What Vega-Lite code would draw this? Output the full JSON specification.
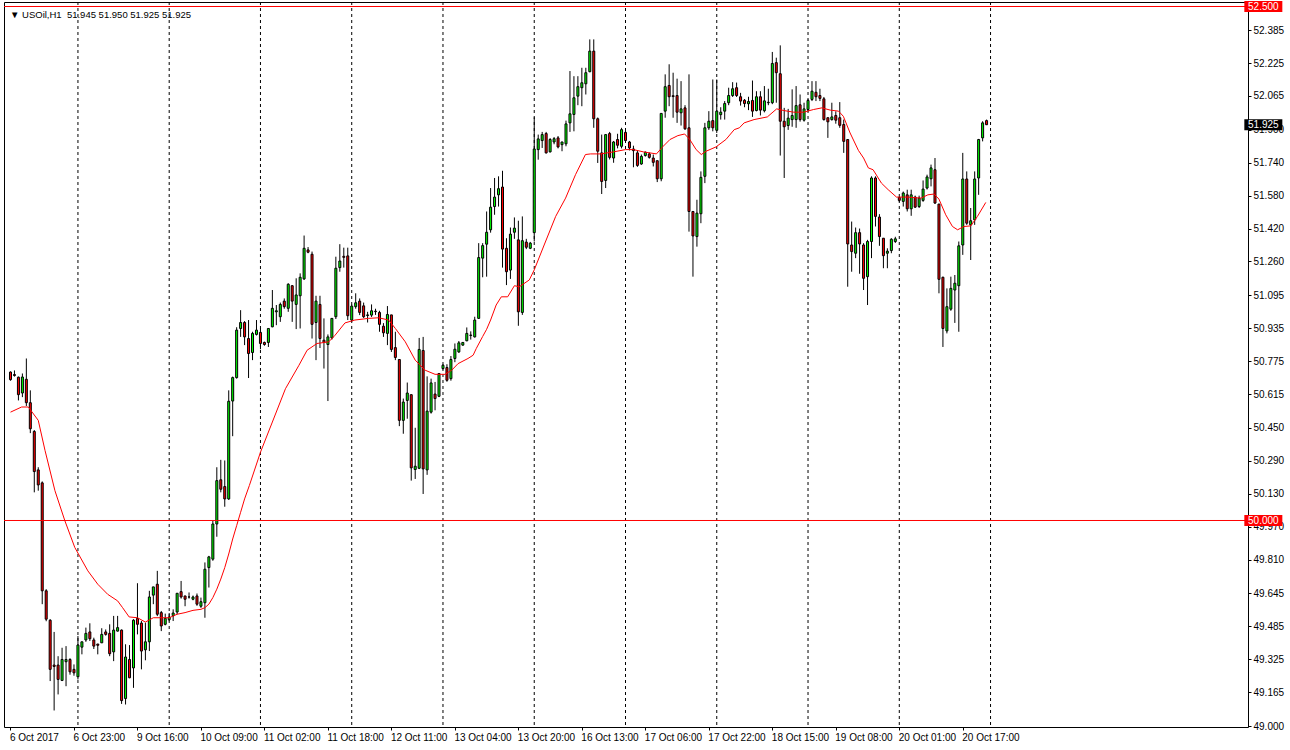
{
"$schema": "https://vega.github.io/schema/vega-lite/v6.json",
"width": 1244,
"height": 725,
"autosize": {"type": "none"},
"padding": {"left": 4, "top": 2, "right": 42, "bottom": 23},
"background": "white",
"config": {"view": {"stroke": "black", "strokeWidth": 1}, "font": "Liberation Sans", "axis": {"labelOverlap": false, "labelBound": false, "labelFlush": false}},
"title": {"text": "▼ USOil,H1\u00a0 51.945 51.950 51.925 51.925", "anchor": "start", "frame": "group", "orient": "top", "offset": -15, "dx": 6, "dy": 11, "baseline": "alphabetic", "fontSize": 9.5, "fontWeight": "normal", "font": "Liberation Sans", "color": "black"},
"datasets": {
"candles": [
{"i":0,"o":50.722,"h":50.725,"l":50.680,"c":50.685},
{"i":1,"o":50.710,"h":50.730,"l":50.700,"c":50.705},
{"i":2,"o":50.697,"h":50.700,"l":50.584,"c":50.612},
{"i":3,"o":50.620,"h":50.715,"l":50.600,"c":50.698},
{"i":4,"o":50.687,"h":50.788,"l":50.557,"c":50.573},
{"i":5,"o":50.573,"h":50.633,"l":50.425,"c":50.446},
{"i":6,"o":50.433,"h":50.440,"l":50.137,"c":50.238},
{"i":7,"o":50.246,"h":50.259,"l":50.145,"c":50.173},
{"i":8,"o":50.183,"h":50.190,"l":49.593,"c":49.658},
{"i":9,"o":49.658,"h":49.666,"l":49.510,"c":49.520},
{"i":10,"o":49.515,"h":49.520,"l":49.219,"c":49.276},
{"i":11,"o":49.297,"h":49.458,"l":49.076,"c":49.290},
{"i":12,"o":49.297,"h":49.340,"l":49.154,"c":49.227},
{"i":13,"o":49.222,"h":49.381,"l":49.219,"c":49.324},
{"i":14,"o":49.313,"h":49.389,"l":49.194,"c":49.324},
{"i":15,"o":49.324,"h":49.330,"l":49.250,"c":49.264},
{"i":16,"o":49.276,"h":49.300,"l":49.245,"c":49.259},
{"i":17,"o":49.240,"h":49.438,"l":49.227,"c":49.394},
{"i":18,"o":49.384,"h":49.410,"l":49.349,"c":49.410},
{"i":19,"o":49.419,"h":49.479,"l":49.410,"c":49.451},
{"i":20,"o":49.458,"h":49.500,"l":49.414,"c":49.425},
{"i":21,"o":49.419,"h":49.430,"l":49.375,"c":49.389},
{"i":22,"o":49.399,"h":49.400,"l":49.349,"c":49.393},
{"i":23,"o":49.405,"h":49.476,"l":49.405,"c":49.446},
{"i":24,"o":49.458,"h":49.470,"l":49.440,"c":49.446},
{"i":25,"o":49.451,"h":49.495,"l":49.340,"c":49.352},
{"i":26,"o":49.361,"h":49.536,"l":49.316,"c":49.467},
{"i":27,"o":49.462,"h":49.536,"l":49.460,"c":49.479},
{"i":28,"o":49.467,"h":49.470,"l":49.108,"c":49.124},
{"i":29,"o":49.134,"h":49.398,"l":49.105,"c":49.336},
{"i":30,"o":49.324,"h":49.394,"l":49.233,"c":49.235},
{"i":31,"o":49.283,"h":49.520,"l":49.186,"c":49.515},
{"i":32,"o":49.524,"h":49.695,"l":49.446,"c":49.495},
{"i":33,"o":49.501,"h":49.511,"l":49.276,"c":49.365},
{"i":34,"o":49.371,"h":49.503,"l":49.320,"c":49.410},
{"i":35,"o":49.410,"h":49.658,"l":49.365,"c":49.628},
{"i":36,"o":49.637,"h":49.677,"l":49.593,"c":49.677},
{"i":37,"o":49.690,"h":49.755,"l":49.535,"c":49.544},
{"i":38,"o":49.552,"h":49.560,"l":49.462,"c":49.487},
{"i":39,"o":49.495,"h":49.547,"l":49.490,"c":49.524},
{"i":40,"o":49.518,"h":49.550,"l":49.510,"c":49.530},
{"i":41,"o":49.537,"h":49.568,"l":49.511,"c":49.550},
{"i":42,"o":49.555,"h":49.646,"l":49.544,"c":49.646},
{"i":43,"o":49.654,"h":49.706,"l":49.620,"c":49.628},
{"i":44,"o":49.633,"h":49.633,"l":49.583,"c":49.617},
{"i":45,"o":49.628,"h":49.650,"l":49.620,"c":49.628},
{"i":46,"o":49.617,"h":49.635,"l":49.612,"c":49.628},
{"i":47,"o":49.633,"h":49.645,"l":49.585,"c":49.593},
{"i":48,"o":49.583,"h":49.625,"l":49.575,"c":49.605},
{"i":49,"o":49.600,"h":49.796,"l":49.527,"c":49.763},
{"i":50,"o":49.771,"h":49.828,"l":49.674,"c":49.823},
{"i":51,"o":49.812,"h":49.999,"l":49.804,"c":49.983},
{"i":52,"o":49.983,"h":50.259,"l":49.921,"c":50.194},
{"i":53,"o":50.198,"h":50.295,"l":50.137,"c":50.152},
{"i":54,"o":50.165,"h":50.292,"l":50.067,"c":50.105},
{"i":55,"o":50.105,"h":50.633,"l":50.100,"c":50.580},
{"i":56,"o":50.581,"h":50.700,"l":50.410,"c":50.695},
{"i":57,"o":50.695,"h":50.940,"l":50.690,"c":50.926},
{"i":58,"o":50.934,"h":51.023,"l":50.893,"c":50.963},
{"i":59,"o":50.963,"h":50.970,"l":50.853,"c":50.893},
{"i":60,"o":50.885,"h":50.975,"l":50.693,"c":50.812},
{"i":61,"o":50.817,"h":50.918,"l":50.780,"c":50.910},
{"i":62,"o":50.905,"h":50.975,"l":50.900,"c":50.926},
{"i":63,"o":50.915,"h":50.935,"l":50.833,"c":50.861},
{"i":64,"o":50.866,"h":50.870,"l":50.850,"c":50.856},
{"i":65,"o":50.866,"h":50.934,"l":50.844,"c":50.934},
{"i":66,"o":50.942,"h":51.121,"l":50.940,"c":51.032},
{"i":67,"o":51.015,"h":51.048,"l":50.950,"c":51.020},
{"i":68,"o":50.991,"h":51.060,"l":50.966,"c":51.051},
{"i":69,"o":51.067,"h":51.080,"l":51.030,"c":51.040},
{"i":70,"o":51.032,"h":51.154,"l":51.015,"c":51.149},
{"i":71,"o":51.142,"h":51.145,"l":50.966,"c":51.067},
{"i":72,"o":51.051,"h":51.178,"l":50.931,"c":51.097},
{"i":73,"o":51.093,"h":51.202,"l":50.934,"c":51.183},
{"i":74,"o":51.175,"h":51.386,"l":51.170,"c":51.324},
{"i":75,"o":51.316,"h":51.330,"l":51.300,"c":51.305},
{"i":76,"o":51.295,"h":51.308,"l":50.885,"c":50.954},
{"i":77,"o":50.963,"h":51.093,"l":50.780,"c":51.067},
{"i":78,"o":51.051,"h":51.093,"l":50.839,"c":50.885},
{"i":79,"o":50.877,"h":50.983,"l":50.739,"c":50.866},
{"i":80,"o":50.856,"h":50.905,"l":50.581,"c":50.893},
{"i":81,"o":50.888,"h":50.983,"l":50.880,"c":50.983},
{"i":82,"o":50.991,"h":51.283,"l":50.980,"c":51.227},
{"i":83,"o":51.230,"h":51.344,"l":51.210,"c":51.262},
{"i":84,"o":51.285,"h":51.327,"l":51.230,"c":51.280},
{"i":85,"o":51.287,"h":51.327,"l":50.975,"c":50.996},
{"i":86,"o":50.975,"h":51.050,"l":50.966,"c":51.043},
{"i":87,"o":51.040,"h":51.105,"l":51.030,"c":51.059},
{"i":88,"o":51.067,"h":51.080,"l":50.999,"c":51.012},
{"i":89,"o":51.044,"h":51.060,"l":50.985,"c":50.991},
{"i":90,"o":50.997,"h":51.015,"l":50.963,"c":51.000},
{"i":91,"o":50.999,"h":51.051,"l":50.990,"c":51.020},
{"i":92,"o":51.018,"h":51.030,"l":51.000,"c":51.016},
{"i":93,"o":51.012,"h":51.020,"l":50.918,"c":50.954},
{"i":94,"o":50.945,"h":50.960,"l":50.893,"c":50.913},
{"i":95,"o":50.910,"h":51.043,"l":50.853,"c":51.002},
{"i":96,"o":51.000,"h":51.000,"l":50.820,"c":50.832},
{"i":97,"o":50.841,"h":50.918,"l":50.780,"c":50.793},
{"i":98,"o":50.783,"h":50.783,"l":50.459,"c":50.487},
{"i":99,"o":50.487,"h":50.593,"l":50.422,"c":50.576},
{"i":100,"o":50.584,"h":50.671,"l":50.495,"c":50.620},
{"i":101,"o":50.612,"h":50.612,"l":50.194,"c":50.256},
{"i":102,"o":50.248,"h":50.451,"l":50.202,"c":50.264},
{"i":103,"o":50.254,"h":50.888,"l":50.250,"c":50.832},
{"i":104,"o":50.827,"h":50.893,"l":50.129,"c":50.251},
{"i":105,"o":50.246,"h":50.701,"l":50.222,"c":50.532},
{"i":106,"o":50.527,"h":50.690,"l":50.520,"c":50.669},
{"i":107,"o":50.615,"h":50.674,"l":50.536,"c":50.593},
{"i":108,"o":50.604,"h":50.715,"l":50.600,"c":50.715},
{"i":109,"o":50.739,"h":50.760,"l":50.735,"c":50.755},
{"i":110,"o":50.744,"h":50.760,"l":50.675,"c":50.682},
{"i":111,"o":50.690,"h":50.800,"l":50.680,"c":50.783},
{"i":112,"o":50.788,"h":50.861,"l":50.770,"c":50.833},
{"i":113,"o":50.820,"h":50.873,"l":50.815,"c":50.864},
{"i":114,"o":50.853,"h":50.868,"l":50.850,"c":50.866},
{"i":115,"o":50.874,"h":50.939,"l":50.872,"c":50.910},
{"i":116,"o":50.900,"h":50.920,"l":50.880,"c":50.902},
{"i":117,"o":50.893,"h":50.991,"l":50.890,"c":50.975},
{"i":118,"o":50.983,"h":51.349,"l":50.980,"c":51.279},
{"i":119,"o":51.276,"h":51.349,"l":51.183,"c":51.337},
{"i":120,"o":51.344,"h":51.503,"l":51.186,"c":51.402},
{"i":121,"o":51.414,"h":51.617,"l":51.400,"c":51.524},
{"i":122,"o":51.527,"h":51.666,"l":51.487,"c":51.573},
{"i":123,"o":51.584,"h":51.674,"l":51.527,"c":51.614},
{"i":124,"o":51.622,"h":51.701,"l":51.230,"c":51.320},
{"i":125,"o":51.324,"h":51.373,"l":51.145,"c":51.210},
{"i":126,"o":51.218,"h":51.425,"l":51.175,"c":51.393},
{"i":127,"o":51.402,"h":51.474,"l":51.370,"c":51.422},
{"i":128,"o":51.365,"h":51.458,"l":50.947,"c":51.015},
{"i":129,"o":51.012,"h":51.479,"l":51.000,"c":51.361},
{"i":130,"o":51.354,"h":51.370,"l":51.320,"c":51.329},
{"i":131,"o":51.324,"h":51.355,"l":51.320,"c":51.349},
{"i":132,"o":51.400,"h":51.961,"l":51.357,"c":51.807},
{"i":133,"o":51.804,"h":51.877,"l":51.755,"c":51.856},
{"i":134,"o":51.848,"h":51.890,"l":51.812,"c":51.877},
{"i":135,"o":51.882,"h":51.890,"l":51.785,"c":51.788},
{"i":136,"o":51.793,"h":51.860,"l":51.790,"c":51.853},
{"i":137,"o":51.841,"h":51.865,"l":51.830,"c":51.857},
{"i":138,"o":51.861,"h":51.870,"l":51.810,"c":51.817},
{"i":139,"o":51.828,"h":51.842,"l":51.796,"c":51.841},
{"i":140,"o":51.832,"h":51.945,"l":51.820,"c":51.929},
{"i":141,"o":51.934,"h":52.186,"l":51.890,"c":51.978},
{"i":142,"o":51.975,"h":52.161,"l":51.893,"c":52.056},
{"i":143,"o":52.064,"h":52.161,"l":52.020,"c":52.110},
{"i":144,"o":52.105,"h":52.202,"l":52.015,"c":52.129},
{"i":145,"o":52.124,"h":52.202,"l":52.072,"c":52.178},
{"i":146,"o":52.183,"h":52.340,"l":52.180,"c":52.283},
{"i":147,"o":52.283,"h":52.340,"l":51.910,"c":51.954},
{"i":148,"o":51.954,"h":51.960,"l":51.739,"c":51.796},
{"i":149,"o":51.788,"h":51.877,"l":51.588,"c":51.649},
{"i":150,"o":51.654,"h":51.877,"l":51.617,"c":51.877},
{"i":151,"o":51.882,"h":51.890,"l":51.756,"c":51.766},
{"i":152,"o":51.763,"h":51.846,"l":51.740,"c":51.841},
{"i":153,"o":51.853,"h":51.881,"l":51.810,"c":51.825},
{"i":154,"o":51.820,"h":51.910,"l":51.810,"c":51.901},
{"i":155,"o":51.888,"h":51.900,"l":51.840,"c":51.848},
{"i":156,"o":51.841,"h":51.846,"l":51.800,"c":51.812},
{"i":157,"o":51.807,"h":51.823,"l":51.718,"c":51.799},
{"i":158,"o":51.788,"h":51.800,"l":51.720,"c":51.727},
{"i":159,"o":51.734,"h":51.780,"l":51.730,"c":51.771},
{"i":160,"o":51.775,"h":51.795,"l":51.770,"c":51.791},
{"i":161,"o":51.783,"h":51.790,"l":51.760,"c":51.766},
{"i":162,"o":51.763,"h":51.780,"l":51.722,"c":51.742},
{"i":163,"o":51.750,"h":51.750,"l":51.646,"c":51.662},
{"i":164,"o":51.662,"h":51.980,"l":51.650,"c":51.980},
{"i":165,"o":51.991,"h":52.170,"l":51.959,"c":52.110},
{"i":166,"o":52.116,"h":52.219,"l":52.015,"c":52.061},
{"i":167,"o":52.066,"h":52.178,"l":51.959,"c":52.062},
{"i":168,"o":52.067,"h":52.149,"l":51.934,"c":51.986},
{"i":169,"o":51.983,"h":52.137,"l":51.921,"c":52.002},
{"i":170,"o":52.007,"h":52.020,"l":51.900,"c":51.905},
{"i":171,"o":51.910,"h":52.170,"l":51.405,"c":51.503},
{"i":172,"o":51.503,"h":51.503,"l":51.186,"c":51.384},
{"i":173,"o":51.381,"h":51.560,"l":51.332,"c":51.495},
{"i":174,"o":51.492,"h":51.698,"l":51.446,"c":51.669},
{"i":175,"o":51.674,"h":51.934,"l":51.641,"c":51.910},
{"i":176,"o":51.910,"h":51.991,"l":51.900,"c":51.942},
{"i":177,"o":51.945,"h":52.145,"l":51.893,"c":51.910},
{"i":178,"o":51.898,"h":52.145,"l":51.885,"c":51.991},
{"i":179,"o":51.974,"h":52.010,"l":51.950,"c":51.986},
{"i":180,"o":51.991,"h":52.040,"l":51.950,"c":52.028},
{"i":181,"o":52.032,"h":52.105,"l":52.020,"c":52.067},
{"i":182,"o":52.067,"h":52.132,"l":52.060,"c":52.100},
{"i":183,"o":52.105,"h":52.130,"l":52.060,"c":52.067},
{"i":184,"o":52.061,"h":52.080,"l":52.018,"c":52.040},
{"i":185,"o":52.044,"h":52.050,"l":52.010,"c":52.028},
{"i":186,"o":52.027,"h":52.061,"l":51.996,"c":52.038},
{"i":187,"o":52.043,"h":52.140,"l":51.963,"c":51.991},
{"i":188,"o":51.994,"h":52.088,"l":51.990,"c":52.061},
{"i":189,"o":52.061,"h":52.088,"l":51.970,"c":51.996},
{"i":190,"o":51.993,"h":52.113,"l":51.985,"c":52.041},
{"i":191,"o":52.032,"h":52.100,"l":52.020,"c":52.034},
{"i":192,"o":52.032,"h":52.279,"l":52.025,"c":52.223},
{"i":193,"o":52.227,"h":52.251,"l":52.032,"c":52.178},
{"i":194,"o":52.173,"h":52.311,"l":51.775,"c":51.942},
{"i":195,"o":51.942,"h":52.007,"l":51.666,"c":51.915},
{"i":196,"o":51.921,"h":52.002,"l":51.900,"c":51.957},
{"i":197,"o":51.950,"h":52.097,"l":51.915,"c":51.970},
{"i":198,"o":51.950,"h":52.113,"l":51.910,"c":52.018},
{"i":199,"o":52.022,"h":52.072,"l":51.940,"c":51.950},
{"i":200,"o":51.947,"h":52.032,"l":51.940,"c":52.002},
{"i":201,"o":51.999,"h":52.050,"l":51.990,"c":52.043},
{"i":202,"o":52.048,"h":52.137,"l":52.040,"c":52.088},
{"i":203,"o":52.083,"h":52.137,"l":52.040,"c":52.061},
{"i":204,"o":52.067,"h":52.100,"l":52.040,"c":52.053},
{"i":205,"o":52.051,"h":52.060,"l":51.945,"c":51.950},
{"i":206,"o":51.959,"h":51.960,"l":51.861,"c":51.939},
{"i":207,"o":51.950,"h":52.032,"l":51.945,"c":51.963},
{"i":208,"o":51.970,"h":51.990,"l":51.930,"c":51.947},
{"i":209,"o":51.959,"h":52.035,"l":51.910,"c":51.922},
{"i":210,"o":51.926,"h":51.950,"l":51.788,"c":51.844},
{"i":211,"o":51.853,"h":51.853,"l":51.137,"c":51.345},
{"i":212,"o":51.340,"h":51.454,"l":51.210,"c":51.308},
{"i":213,"o":51.300,"h":51.425,"l":51.276,"c":51.400},
{"i":214,"o":51.400,"h":51.420,"l":51.200,"c":51.345},
{"i":215,"o":51.340,"h":51.349,"l":51.121,"c":51.178},
{"i":216,"o":51.186,"h":51.365,"l":51.048,"c":51.357},
{"i":217,"o":51.357,"h":51.674,"l":51.276,"c":51.666},
{"i":218,"o":51.666,"h":51.674,"l":51.430,"c":51.479},
{"i":219,"o":51.476,"h":51.490,"l":51.336,"c":51.381},
{"i":220,"o":51.373,"h":51.373,"l":51.227,"c":51.288},
{"i":221,"o":51.300,"h":51.324,"l":51.227,"c":51.310},
{"i":222,"o":51.313,"h":51.373,"l":51.300,"c":51.368},
{"i":223,"o":51.357,"h":51.380,"l":51.350,"c":51.370},
{"i":224,"o":51.571,"h":51.575,"l":51.550,"c":51.557},
{"i":225,"o":51.552,"h":51.600,"l":51.527,"c":51.593},
{"i":226,"o":51.584,"h":51.609,"l":51.503,"c":51.516},
{"i":227,"o":51.516,"h":51.609,"l":51.482,"c":51.584},
{"i":228,"o":51.573,"h":51.580,"l":51.520,"c":51.524},
{"i":229,"o":51.527,"h":51.580,"l":51.520,"c":51.568},
{"i":230,"o":51.557,"h":51.654,"l":51.550,"c":51.612},
{"i":231,"o":51.617,"h":51.682,"l":51.610,"c":51.671},
{"i":232,"o":51.662,"h":51.731,"l":51.625,"c":51.715},
{"i":233,"o":51.706,"h":51.763,"l":51.540,"c":51.544},
{"i":234,"o":51.539,"h":51.540,"l":51.105,"c":51.173},
{"i":235,"o":51.183,"h":51.186,"l":50.844,"c":50.934},
{"i":236,"o":50.922,"h":51.129,"l":50.910,"c":51.040},
{"i":237,"o":51.028,"h":51.186,"l":51.020,"c":51.129},
{"i":238,"o":51.121,"h":51.194,"l":50.961,"c":51.154},
{"i":239,"o":51.142,"h":51.357,"l":50.918,"c":51.336},
{"i":240,"o":51.340,"h":51.788,"l":51.292,"c":51.661},
{"i":241,"o":51.661,"h":51.698,"l":51.438,"c":51.446},
{"i":242,"o":51.438,"h":51.520,"l":51.267,"c":51.458},
{"i":243,"o":51.462,"h":51.698,"l":51.438,"c":51.661},
{"i":244,"o":51.666,"h":51.856,"l":51.584,"c":51.853},
{"i":245,"o":51.861,"h":51.942,"l":51.844,"c":51.934},
{"i":246,"o":51.945,"h":51.950,"l":51.925,"c":51.925}
],
"ma": [
{"i":0,"v":50.527},{"i":2.8,"v":50.552},{"i":4.5,"v":50.552},{"i":7,"v":50.487},{"i":8.7,"v":50.341},{"i":11.2,"v":50.145},{"i":13.7,"v":49.999},{"i":16.2,"v":49.869},{"i":19.5,"v":49.755},{"i":22,"v":49.690},{"i":24.5,"v":49.641},{"i":27,"v":49.609},{"i":28.25,"v":49.576},{"i":29.9,"v":49.531},{"i":32,"v":49.527},{"i":34,"v":49.506},{"i":36,"v":49.527},{"i":40,"v":49.527},{"i":42,"v":49.544},{"i":44,"v":49.552},{"i":46,"v":49.563},{"i":48,"v":49.568},{"i":49,"v":49.576},{"i":50,"v":49.593},{"i":51,"v":49.625},{"i":52,"v":49.666},{"i":53,"v":49.715},{"i":54,"v":49.771},{"i":55,"v":49.837},{"i":56,"v":49.910},{"i":57,"v":49.975},{"i":58,"v":50.040},{"i":59,"v":50.105},{"i":60.2,"v":50.170},{"i":63,"v":50.332},{"i":66,"v":50.479},{"i":69.3,"v":50.641},{"i":72.7,"v":50.755},{"i":74.75,"v":50.828},{"i":77.25,"v":50.861},{"i":80.2,"v":50.869},{"i":81.8,"v":50.901},{"i":84.3,"v":50.961},{"i":86.8,"v":50.975},{"i":90.2,"v":50.983},{"i":92.8,"v":50.986},{"i":95.3,"v":50.975},{"i":97,"v":50.934},{"i":99.5,"v":50.869},{"i":102,"v":50.780},{"i":104.5,"v":50.731},{"i":107,"v":50.711},{"i":109.5,"v":50.711},{"i":111.2,"v":50.731},{"i":112.8,"v":50.763},{"i":115.3,"v":50.788},{"i":116.6,"v":50.804},{"i":117.4,"v":50.837},{"i":119,"v":50.895},{"i":120,"v":50.930},{"i":121,"v":50.975},{"i":122.4,"v":51.048},{"i":123.7,"v":51.088},{"i":125.3,"v":51.088},{"i":127,"v":51.142},{"i":128.25,"v":51.137},{"i":130.75,"v":51.170},{"i":132,"v":51.219},{"i":134.5,"v":51.340},{"i":137.4,"v":51.479},{"i":139.9,"v":51.568},{"i":142.4,"v":51.682},{"i":144.9,"v":51.780},{"i":146.2,"v":51.783},{"i":148.7,"v":51.783},{"i":152,"v":51.793},{"i":155,"v":51.804},{"i":157,"v":51.804},{"i":159.5,"v":51.793},{"i":162.8,"v":51.783},{"i":164.5,"v":51.820},{"i":166.2,"v":51.853},{"i":168.2,"v":51.872},{"i":169.9,"v":51.880},{"i":171.2,"v":51.853},{"i":172.8,"v":51.804},{"i":174.1,"v":51.780},{"i":175.3,"v":51.796},{"i":177.8,"v":51.817},{"i":180.3,"v":51.853},{"i":182.4,"v":51.901},{"i":183.7,"v":51.910},{"i":184.9,"v":51.934},{"i":187.4,"v":51.950},{"i":190.75,"v":51.963},{"i":193.1,"v":52.002},{"i":194.9,"v":51.994},{"i":197.4,"v":51.986},{"i":199.9,"v":51.986},{"i":202.4,"v":51.999},{"i":204.5,"v":52.007},{"i":206.6,"v":51.996},{"i":208.7,"v":51.991},{"i":209.9,"v":51.966},{"i":211.6,"v":51.885},{"i":213.7,"v":51.800},{"i":215,"v":51.763},{"i":216.2,"v":51.715},{"i":217.4,"v":51.706},{"i":219.5,"v":51.641},{"i":221.2,"v":51.609},{"i":223.3,"v":51.573},{"i":226.2,"v":51.573},{"i":229.5,"v":51.568},{"i":231.2,"v":51.584},{"i":232.8,"v":51.588},{"i":234,"v":51.563},{"i":235.7,"v":51.487},{"i":237.4,"v":51.430},{"i":238.7,"v":51.414},{"i":240.3,"v":51.430},{"i":242,"v":51.433},{"i":243.7,"v":51.479},{"i":245.8,"v":51.547}
],
"grid": [{"g":17},{"g":40},{"g":63},{"g":86},{"g":109},{"g":132},{"g":155},{"g":178},{"g":201},{"g":224},{"g":247}],
"levels": [
{"p":52.5,"t":"52.500","kind":"level"},
{"p":50.0,"t":"50.000","kind":"level"},
{"p":51.925,"t":"51.925","kind":"price"}
]
},
"layer": [
{
"data": {"name": "candles"},
"mark": {"type": "rule", "color": "black", "strokeWidth": 1},
"encoding": {
"x": {"field": "i", "type": "quantitative", "scale": {"domain": [-0.375, 310.625], "nice": false, "zero": false},
"axis": {"values": [0,16,32,48,64,80,96,112,128,144,160,176,192,208,224,240], "tickCount": 100,
"labelExpr": "['6 Oct 2017','6 Oct 23:00','9 Oct 16:00','10 Oct 09:00','11 Oct 02:00','11 Oct 18:00','12 Oct 11:00','13 Oct 04:00','13 Oct 20:00','16 Oct 13:00','17 Oct 06:00','17 Oct 22:00','18 Oct 15:00','19 Oct 08:00','20 Oct 01:00','20 Oct 17:00'][round(datum.value/16)]",
"labelAlign": "left", "labelBaseline": "top", "labelPadding": 2, "labelOffset": -1, "tickSize": 3, "tickColor": "black", "domain": false, "grid": false,
"labelColor": "black", "labelFont": "Liberation Sans", "labelFontSize": 10, "title": null, "labelFlush": false, "labelOverlap": false, "labelBound": false}},
"y": {"field": "l", "type": "quantitative", "scale": {"domain": [48.9956, 52.5219], "nice": false, "zero": false},
"axis": {"orient": "right", "values": [49.0,49.165,49.325,49.485,49.645,49.81,49.97,50.13,50.29,50.45,50.615,50.775,50.935,51.095,51.26,51.42,51.58,51.74,51.9,52.065,52.225,52.385], "tickCount": 100,
"labelExpr": "format(datum.value, '.3f')", "labelAlign": "left", "labelBaseline": "middle", "labelPadding": 2, "tickSize": 3, "tickColor": "black", "domain": false, "grid": false,
"labelColor": "black", "labelFont": "Liberation Sans", "labelFontSize": 10, "title": null, "labelFlush": false, "labelOverlap": false, "labelBound": false}},
"y2": {"field": "h"}
}
},
{
"data": {"name": "grid"},
"mark": {"type": "rule", "color": "black", "strokeWidth": 1, "strokeDash": [3, 3]},
"encoding": {
"x": {"field": "g", "type": "quantitative"}
}
},
{
"data": {"name": "candles"},
"mark": {"type": "bar", "size": 2, "stroke": "black", "strokeWidth": 1},
"encoding": {
"x": {"field": "i", "type": "quantitative"},
"y": {"field": "o", "type": "quantitative"},
"y2": {"field": "c"},
"fill": {"condition": {"test": "datum.c >= datum.o", "value": "#00ff00"}, "value": "#ff0000"}
}
},
{
"data": {"name": "ma"},
"mark": {"type": "line", "color": "#ff0000", "strokeWidth": 1},
"encoding": {
"x": {"field": "i", "type": "quantitative"},
"y": {"field": "v", "type": "quantitative"}
}
},
{
"data": {"name": "levels"},
"transform": [{"filter": "datum.kind == 'level'"}],
"mark": {"type": "rule", "color": "#ff0000", "strokeWidth": 1},
"encoding": {
"y": {"field": "p", "type": "quantitative"}
}
},
{
"data": {"name": "levels"},
"mark": {"type": "tick", "orient": "horizontal", "size": 38, "thickness": 11, "opacity": 1},
"encoding": {
"x": {"datum": 315.75, "type": "quantitative"},
"y": {"field": "p", "type": "quantitative"},
"color": {"field": "kind", "type": "nominal", "scale": {"domain": ["level", "price"], "range": ["#ff0000", "#000000"]}, "legend": null}
}
},
{
"data": {"name": "levels"},
"mark": {"type": "text", "align": "left", "baseline": "middle", "color": "white", "fontSize": 10, "font": "Liberation Sans", "dy": 0.5},
"encoding": {
"x": {"datum": 311.9, "type": "quantitative"},
"y": {"field": "p", "type": "quantitative"},
"text": {"field": "t"}
}
}
]
}
